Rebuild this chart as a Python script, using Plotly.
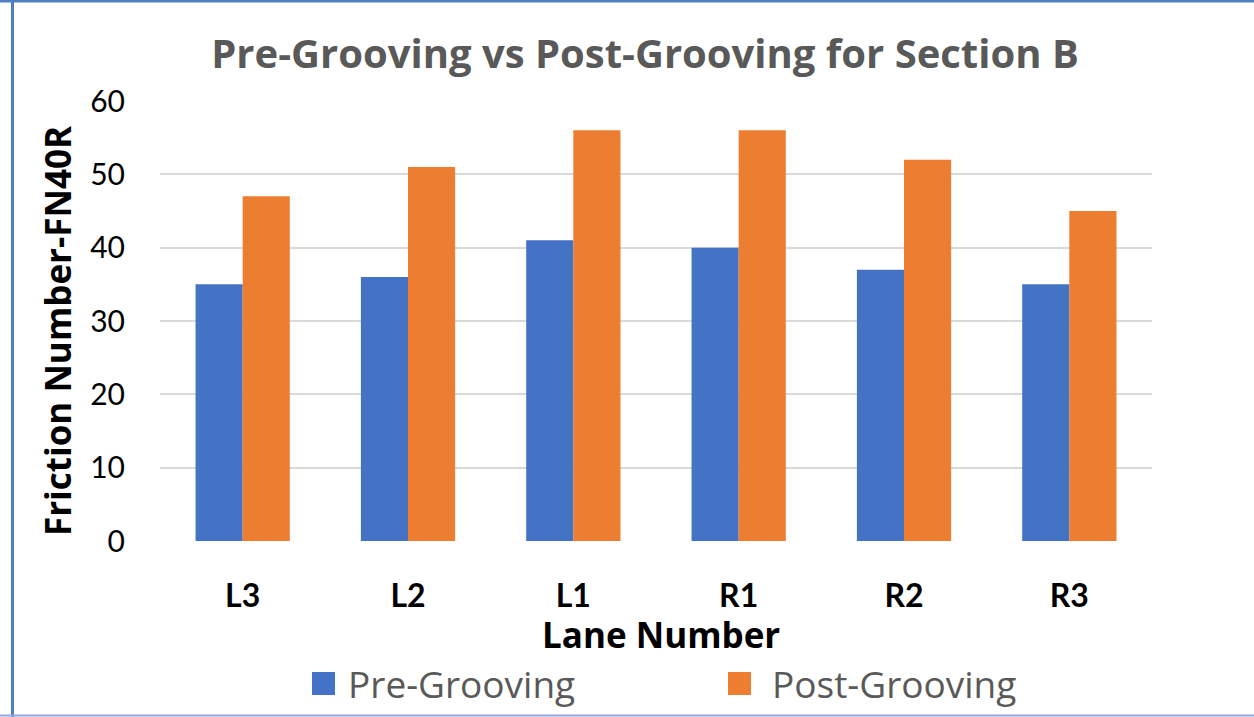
import plotly.graph_objects as go

# Lane friction readings (FN40R) before and after grooving, Section B
lanes = ["L3", "L2", "L1", "R1", "R2", "R3"]
pre_grooving = [35, 36, 41, 40, 37, 35]
post_grooving = [47, 51, 56, 56, 52, 45]
y_ticks = [0, 10, 20, 30, 40, 50, 60]

BLUE = "#4472C4"
ORANGE = "#ED7D31"
GREY_TEXT = "#595959"
FONT = "Lato"
WIDE = "Open Sans"

W, H = 1254, 717
L, R, T, B = 160, 102, 101, 176
PW, PH = W - L - R, H - T - B


def px_x(px):
    return (px - L) / PW


def px_y(py):
    return (H - B - py) / PH


fig = go.Figure()
fig.add_trace(go.Bar(name="Pre-Grooving", x=lanes, y=pre_grooving,
                     marker=dict(color=BLUE, line=dict(width=0)), showlegend=False))
fig.add_trace(go.Bar(name="Post-Grooving", x=lanes, y=post_grooving,
                     marker=dict(color=ORANGE, line=dict(width=0)), showlegend=False))

fig.update_layout(
    width=W, height=H,
    margin=dict(l=L, r=R, t=T, b=B, autoexpand=False),
    paper_bgcolor="white", plot_bgcolor="white",
    barmode="group", bargap=0.43, bargroupgap=0,
    font=dict(family=FONT, color="black"),
    title=dict(text="<b>Pre-Grooving vs Post-Grooving for Section B</b>",
               x=645 / W, xanchor="center", y=1 - 54 / H, yanchor="middle",
               xref="container", yref="container",
               font=dict(family=WIDE, size=40, color=GREY_TEXT)),
    xaxis=dict(tickfont=dict(family=FONT, size=32, color="black", weight="bold"),
               showgrid=False, zeroline=False, showline=False,
               ticks="", ticklabelstandoff=33),
    yaxis=dict(range=[0, 60], tickvals=y_ticks,
               tickfont=dict(family=FONT, size=30, color="black"),
               showgrid=True, gridcolor="#D9D9D9", gridwidth=2,
               zeroline=False, showline=False, ticks="", ticklabelstandoff=34),
)

annotations = [
    dict(text="<b>Lane Number</b>", x=px_x(661), y=px_y(634),
         font=dict(family=WIDE, size=35, color="black")),
    dict(text="<b>Friction Number-FN40R</b>", x=px_x(57), y=px_y(331), textangle=-90,
         font=dict(family=WIDE, size=35, color="black")),
    dict(text="Pre-Grooving", x=px_x(346), y=px_y(683), xanchor="left",
         font=dict(family=WIDE, size=37, color=GREY_TEXT)),
    dict(text="Post-Grooving", x=px_x(770), y=px_y(683), xanchor="left",
         font=dict(family=WIDE, size=37, color=GREY_TEXT)),
]
for a in annotations:
    a.setdefault("xanchor", "center")
    a.update(xref="paper", yref="paper", yanchor="middle", showarrow=False)
fig.update_layout(annotations=annotations)

shapes = [
    # legend swatches
    dict(type="rect", x0=px_x(312), x1=px_x(335), y0=px_y(672), y1=px_y(695),
         fillcolor=BLUE, line=dict(width=0)),
    dict(type="rect", x0=px_x(728), x1=px_x(751), y0=px_y(672), y1=px_y(695),
         fillcolor=ORANGE, line=dict(width=0)),
    # frame lines
    dict(type="line", x0=px_x(12.5), x1=px_x(12.5), y0=px_y(0), y1=px_y(717),
         line=dict(color="#4F7FC0", width=3)),
    dict(type="line", x0=px_x(0), x1=px_x(1254), y0=px_y(1), y1=px_y(1),
         line=dict(color="#4F7FC0", width=3)),
    dict(type="line", x0=px_x(0), x1=px_x(1254), y0=px_y(715.5), y1=px_y(715.5),
         line=dict(color="#8FAADC", width=2)),
]
for s in shapes:
    s.update(xref="paper", yref="paper", layer="above")
fig.update_layout(shapes=shapes)

fig.write_html("out.html")
